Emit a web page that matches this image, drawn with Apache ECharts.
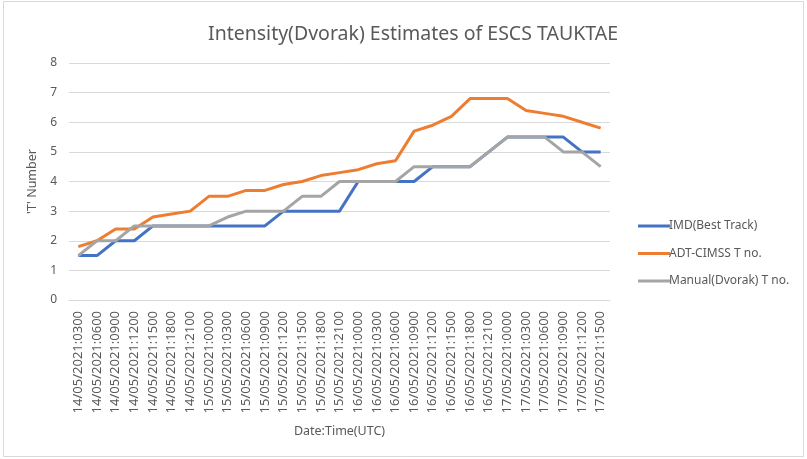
<!DOCTYPE html>
<html>
<head>
<meta charset="utf-8">
<script src="https://cdn.jsdelivr.net/npm/echarts@6/dist/echarts.min.js"></script>
<style>
  html, body { margin: 0; padding: 0; background: #fff; }
  #tauktae { width: 807px; height: 459px; }
</style>
</head>
<body>
<div id="tauktae"></div>
<script>
// time steps (UTC)
const timeLabels = [
  '14/05/2021:0300', '14/05/2021:0600', '14/05/2021:0900', '14/05/2021:1200',
  '14/05/2021:1500', '14/05/2021:1800', '14/05/2021:2100',
  '15/05/2021:0000', '15/05/2021:0300', '15/05/2021:0600', '15/05/2021:0900',
  '15/05/2021:1200', '15/05/2021:1500', '15/05/2021:1800', '15/05/2021:2100',
  '16/05/2021:0000', '16/05/2021:0300', '16/05/2021:0600', '16/05/2021:0900',
  '16/05/2021:1200', '16/05/2021:1500', '16/05/2021:1800', '16/05/2021:2100',
  '17/05/2021:0000', '17/05/2021:0300', '17/05/2021:0600', '17/05/2021:0900',
  '17/05/2021:1200', '17/05/2021:1500'
]

const imdBestTrack = [1.5, 1.5, 2, 2, 2.5, 2.5, 2.5, 2.5, 2.5, 2.5, 2.5, 3, 3, 3, 3,
  4, 4, 4, 4, 4.5, 4.5, 4.5, 5, 5.5, 5.5, 5.5, 5.5, 5, 5]
const adtCimss = [1.8, 2.0, 2.4, 2.4, 2.8, 2.9, 3.0, 3.5, 3.5, 3.7, 3.7, 3.9, 4.0, 4.2, 4.3,
  4.4, 4.6, 4.7, 5.7, 5.9, 6.2, 6.8, 6.8, 6.8, 6.4, 6.3, 6.2, 6.0, 5.8]
const manualDvorak = [1.5, 2, 2, 2.5, 2.5, 2.5, 2.5, 2.5, 2.8, 3, 3, 3, 3.5, 3.5, 4,
  4, 4, 4, 4.5, 4.5, 4.5, 4.5, 5, 5.5, 5.5, 5.5, 5, 5, 4.5]

const yTicks = [0, 1, 2, 3, 4, 5, 6, 7, 8]

const font = 'Noto Sans'
const textGrey = '#595959'

const chart = echarts.init(document.getElementById('tauktae'))

const mkLine = (name, data, color) => ({
  name: name,
  type: 'line',
  data: data,
  symbol: 'none',
  lineStyle: { width: 3, color: color },
  itemStyle: { color: color }
})

const option = {
  backgroundColor: '#fff',
  animation: false,
  textStyle: { fontFamily: font },
  title: {
    text: 'Intensity(Dvorak) Estimates of ESCS TAUKTAE',
    left: 408,
    top: 19,
    textAlign: 'center',
    textStyle: { fontFamily: font, fontSize: 19.5, fontWeight: 'normal', color: textGrey }
  },
  legend: {
    orient: 'vertical',
    left: 633,
    top: 215,
    itemGap: 15.5,
    itemWidth: 32,
    itemHeight: 3,
    icon: 'rect',
    textStyle: { fontFamily: font, fontSize: 12, color: textGrey, padding: [0, 0, 0, -6] },
    data: ['IMD(Best Track)', 'ADT-CIMSS T no.', 'Manual(Dvorak) T no.']
  },
  graphic: [{
    type: 'rect',
    shape: { x: 3.5, y: 1.5, width: 800, height: 455 },
    style: { fill: 'none', stroke: '#d9d9d9', lineWidth: 1 },
    silent: true
  }],
  grid: { left: 69, right: 197, top: 63, bottom: 159 },
  xAxis: {
    type: 'category',
    data: timeLabels,
    boundaryGap: true,
    name: 'Date:Time(UTC)',
    nameLocation: 'middle',
    nameGap: 125,
    nameTextStyle: { fontFamily: font, fontSize: 12.5, color: textGrey },
    axisLine: { lineStyle: { color: '#d9d9d9', width: 1 } },
    axisTick: { show: false },
    axisLabel: {
      rotate: 90,
      interval: 0,
      margin: 11,
      fontFamily: font,
      fontSize: 13,
      color: textGrey
    }
  },
  yAxis: {
    type: 'value',
    min: yTicks[0],
    max: yTicks[yTicks.length - 1],
    interval: 1,
    name: "'T' Number",
    nameLocation: 'middle',
    nameGap: 25,
    nameTextStyle: { fontFamily: font, fontSize: 12.5, color: textGrey },
    axisLine: { show: false },
    axisTick: { show: false },
    axisLabel: { margin: 12, fontFamily: font, fontSize: 12, color: textGrey },
    splitLine: { lineStyle: { color: '#d9d9d9', width: 1 } }
  },
  series: [
    mkLine('IMD(Best Track)', imdBestTrack, '#4472C4'),
    mkLine('ADT-CIMSS T no.', adtCimss, '#ED7D31'),
    mkLine('Manual(Dvorak) T no.', manualDvorak, '#A5A5A5')
  ]
}

chart.setOption(option)
</script>
</body>
</html>
